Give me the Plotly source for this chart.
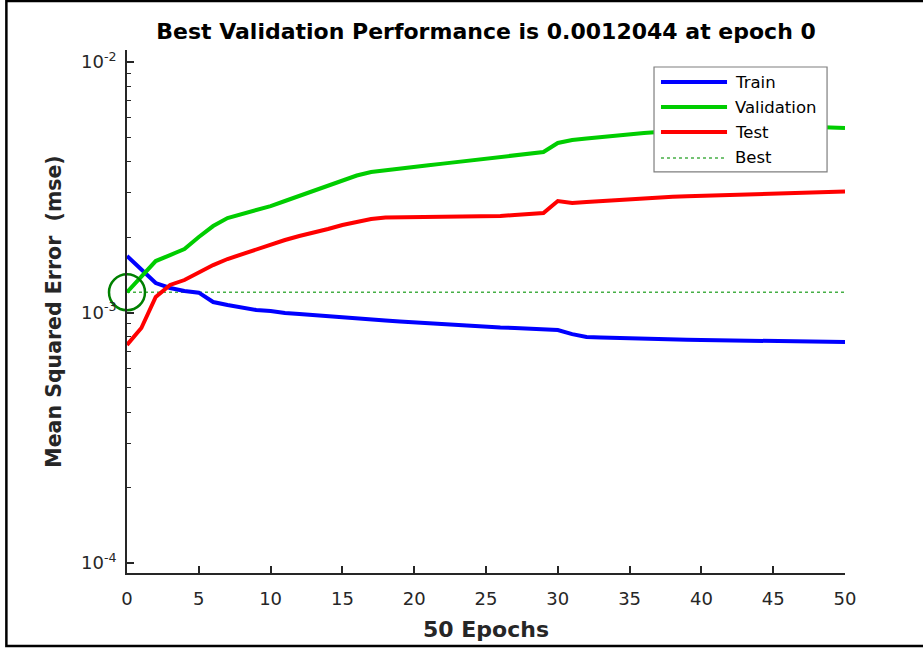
import plotly.graph_objects as go

# ---------------- data ----------------
epochs = list(range(51))

train_mse = [1.680e-3, 1.478e-3, 1.311e-3, 1.253e-3, 1.219e-3, 1.200e-3, 1.101e-3, 1.071e-3, 1.042e-3, 1.023e-3,
             1.014e-3, 0.995e-3, 0.986e-3, 0.975e-3, 0.966e-3, 0.956e-3, 0.947e-3, 0.938e-3, 0.930e-3, 0.921e-3,
             0.913e-3, 0.904e-3, 0.896e-3, 0.888e-3, 0.879e-3, 0.875e-3, 0.871e-3, 0.867e-3, 0.863e-3, 0.859e-3,
             0.851e-3, 0.820e-3, 0.798e-3, 0.795e-3, 0.791e-3, 0.788e-3, 0.784e-3, 0.782e-3, 0.780e-3, 0.778e-3,
             0.776e-3, 0.774e-3, 0.772e-3, 0.771e-3, 0.769e-3, 0.768e-3, 0.767e-3, 0.766e-3, 0.765e-3, 0.764e-3,
             0.763e-3]

valid_mse = [1.2044e-3, 1.398e-3, 1.605e-3, 1.696e-3, 1.793e-3, 2.002e-3, 2.214e-3, 2.383e-3, 2.473e-3, 2.566e-3,
             2.660e-3, 2.787e-3, 2.918e-3, 3.055e-3, 3.214e-3, 3.380e-3, 3.522e-3, 3.640e-3, 3.705e-3, 3.760e-3,
             3.815e-3, 3.873e-3, 3.930e-3, 3.990e-3, 4.048e-3, 4.108e-3, 4.169e-3, 4.230e-3, 4.293e-3, 4.371e-3,
             4.750e-3, 4.880e-3, 4.950e-3, 5.020e-3, 5.090e-3, 5.160e-3, 5.210e-3, 5.250e-3, 5.300e-3, 5.330e-3,
             5.350e-3, 5.376e-3, 5.400e-3, 5.426e-3, 5.450e-3, 5.476e-3, 5.500e-3, 5.500e-3, 5.500e-3, 5.476e-3,
             5.450e-3]

test_mse = [0.742e-3, 0.867e-3, 1.153e-3, 1.288e-3, 1.348e-3, 1.451e-3, 1.547e-3, 1.635e-3, 1.712e-3, 1.785e-3,
            1.860e-3, 1.947e-3, 2.021e-3, 2.077e-3, 2.154e-3, 2.235e-3, 2.307e-3, 2.362e-3, 2.394e-3, 2.396e-3,
            2.398e-3, 2.400e-3, 2.403e-3, 2.406e-3, 2.410e-3, 2.416e-3, 2.430e-3, 2.450e-3, 2.473e-3, 2.496e-3,
            2.787e-3, 2.736e-3, 2.761e-3, 2.787e-3, 2.812e-3, 2.838e-3, 2.865e-3, 2.886e-3, 2.897e-3, 2.910e-3,
            2.921e-3, 2.934e-3, 2.945e-3, 2.956e-3, 2.970e-3, 2.981e-3, 2.994e-3, 3.005e-3, 3.016e-3, 3.030e-3,
            3.041e-3]

best_epoch = 0
best_perf = 0.0012044

series_names = ["Train", "Validation", "Test", "Best"]
series_colors = ["rgb(0,0,255)", "rgb(0,205,0)", "rgb(255,0,0)", "rgb(70,175,70)"]

x_ticks = [0, 5, 10, 15, 20, 25, 30, 35, 40, 45, 50]
y_ticks = [1e-4, 1e-3, 1e-2]
y_tick_text = ["10<sup>-4</sup>", "10<sup>-3</sup>", "10<sup>-2</sup>"]
y_minor = [m * d for d in (1e-4, 1e-3) for m in range(2, 10)]

title_text = "Best Validation Performance is 0.0012044 at epoch 0"
x_title = "50 Epochs"
y_title = "Mean Squared Error \u00a0(mse)"

FONT = "DejaVu Sans"
AX = "#262626"

# ---------------- figure ----------------
fig = go.Figure()

fig.add_trace(go.Scatter(x=[epochs[0], epochs[-1]], y=[best_perf, best_perf], mode="lines",
                         line=dict(color=series_colors[3], width=1.5, dash="dot"),
                         showlegend=False, hoverinfo="skip"))
fig.add_trace(go.Scatter(x=epochs, y=train_mse, mode="lines",
                         line=dict(color=series_colors[0], width=4), showlegend=False))
fig.add_trace(go.Scatter(x=epochs, y=valid_mse, mode="lines",
                         line=dict(color=series_colors[1], width=4), showlegend=False))
fig.add_trace(go.Scatter(x=epochs, y=test_mse, mode="lines",
                         line=dict(color=series_colors[2], width=4), showlegend=False))
fig.add_trace(go.Scatter(x=[best_epoch], y=[best_perf], mode="markers", cliponaxis=False,
                         marker=dict(symbol="circle-open", size=36, color="rgb(0,128,0)",
                                     line=dict(width=2.5, color="rgb(0,128,0)")),
                         showlegend=False))

# custom MATLAB-style legend
lg_x0, lg_x1, lg_y0, lg_y1 = 0.734, 0.975, 0.767, 0.9675
row_y = [0.9388, 0.891, 0.8432, 0.7935]
shapes = [dict(type="rect", xref="paper", yref="paper", x0=lg_x0, x1=lg_x1, y0=lg_y0, y1=lg_y1,
               fillcolor="white", line=dict(color="#7f7f7f", width=1.2), layer="above")]
annotations = []
for i, name in enumerate(series_names):
    dash = "dot" if name == "Best" else "solid"
    w = 1.5 if name == "Best" else 4
    shapes.append(dict(type="line", xref="paper", yref="paper", x0=0.7437, x1=0.8357,
                       y0=row_y[i], y1=row_y[i], line=dict(color=series_colors[i], width=w, dash=dash),
                       layer="above"))
    annotations.append(dict(xref="paper", yref="paper", x=0.844, y=row_y[i], text=name,
                            showarrow=False, xanchor="left", yanchor="middle",
                            font=dict(family=FONT, size=16.5, color="black")))

# outer frame
shapes.append(dict(type="rect", xref="paper", yref="paper", x0=-0.168, x1=1.2, y0=-0.1396, y1=1.0937,
                   line=dict(color="black", width=2.5), layer="above"))

fig.update_layout(
    width=923, height=650,
    margin=dict(l=127, r=78, t=50, b=77),
    paper_bgcolor="white", plot_bgcolor="white",
    title=dict(text=title_text, x=(127 + 845) / 2 / 923, xanchor="center",
               y=1 - 31 / 650, yanchor="middle",
               font=dict(family=FONT, size=22, color="black", weight="bold")),
    shapes=shapes, annotations=annotations,
    showlegend=False,
)

fig.update_xaxes(range=[0, 50], tickvals=x_ticks, ticks="inside", ticklen=7, tickwidth=1.5,
                 tickcolor=AX, showline=True, linecolor=AX, linewidth=1.8, showgrid=False, zeroline=False,
                 ticklabelstandoff=8,
                 tickfont=dict(family=FONT, size=18, color=AX),
                 title=dict(text=x_title, standoff=14, font=dict(family=FONT, size=22, color=AX, weight="bold")))

fig.update_yaxes(type="log", range=[-4.04, -1.952], tickvals=y_ticks, ticktext=y_tick_text,
                 ticks="inside", ticklen=7, tickwidth=1.5, tickcolor=AX,
                 minor=dict(tickvals=y_minor, ticks="inside", ticklen=4, tickwidth=1.2, tickcolor=AX),
                 showline=True, linecolor=AX, linewidth=1.8, showgrid=False, zeroline=False,
                 ticklabelstandoff=5,
                 tickfont=dict(family=FONT, size=18, color=AX),
                 title=dict(text=y_title, standoff=14, font=dict(family=FONT, size=20.5, color=AX, weight="bold")))

fig.write_html("out.html", config={"displayModeBar": False},
               post_script="document.body.style.margin='0';document.body.style.overflow='hidden';")
